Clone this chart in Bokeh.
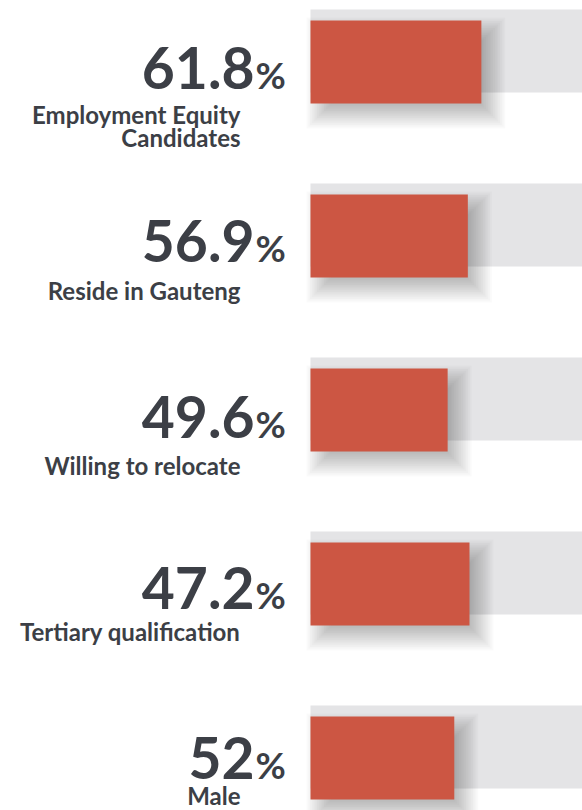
from bokeh.plotting import figure
from bokeh.models import Range1d, ColumnDataSource
from bokeh.core.properties import value
from bokeh.embed import file_html
from bokeh.resources import INLINE

# ---- data ----
labels = ["Employment Equity\nCandidates", "Reside in Gauteng", "Willing to relocate",
          "Tertiary qualification", "Male"]
values = [61.8, 56.9, 49.6, 47.2, 52]
value_text = ["61.8", "56.9", "49.6", "47.2", "52"]
# drawn length of the red bar, as measured in the picture (percent of the grey track)
bar_length = [61.8, 56.9, 49.6, 57.5, 52.0]
track_length = [100, 100, 100, 100, 100]

# ---- layout / style ----
W, H = 582, 810
PX_PER_PCT = 2.765
BAR_X0 = 310           # plot px where 0% sits
ROW = 174              # px between rows
FIRST_CENTER = 50.5    # plot px of first grey track centre
TRACK_H = 83
RED_DY = 11
RED = "#CC5643"
GREY = "#E4E4E6"
TEXT = "#3C3F46"
FONT = "Lato"
NUM_SIZE = 57
PCT_SIZE = 37
LAB_SIZE = 24
BASE_FIX = 0.34        # renderer places alphabetic baseline this many em lower

num_dy = [78, 77, 79, 76, 72]        # baseline of big number below track top (px)
lab_dy = [113, 115, 116, 108, 98]    # baseline of first label line below track top (px)

x_start = -BAR_X0 / PX_PER_PCT
x_end = (W - BAR_X0) / PX_PER_PCT
y_top = -FIRST_CENTER / ROW
y_bot = (H - FIRST_CENTER) / ROW

p = figure(width=W, height=H, output_backend="svg", toolbar_location=None,
           x_range=Range1d(x_start, x_end), y_range=Range1d(y_bot, y_top),
           min_border=0)
p.axis.visible = False
p.grid.visible = False
p.outline_line_color = None
p.background_fill_color = "white"
p.border_fill_color = "white"

n = len(values)
idx = list(range(n))
hu = TRACK_H / 2 / ROW

# grey tracks
p.quad(left=[0] * n, right=track_length, top=[i - hu for i in idx],
       bottom=[i + hu for i in idx], fill_color=GREY, line_color=None)

# soft shadow under red bars
red_top = [i - hu + RED_DY / ROW for i in idx]
red_bot = [t + TRACK_H / ROW for t in red_top]
SH_DX, SH_DY, BLUR, LAYERS = 10, 11, 28, 16
for k in range(LAYERS, 0, -1):
    e = BLUR * k / LAYERS - BLUR / 2
    ex = e / PX_PER_PCT
    ey = e / ROW
    p.quad(left=[SH_DX / PX_PER_PCT - ex] * n,
           right=[b + SH_DX / PX_PER_PCT + ex for b in bar_length],
           top=[t + SH_DY / ROW - ey for t in red_top],
           bottom=[b + SH_DY / ROW + ey for b in red_bot],
           fill_color="black", fill_alpha=0.019, line_color=None)

# red bars
p.quad(left=[0] * n, right=bar_length, top=red_top, bottom=red_bot,
       fill_color=RED, line_color=None)

track_top_off = -TRACK_H / 2

# big numbers
num_src = ColumnDataSource(dict(x=[0] * n, y=idx, t=value_text,
                                yo=[d + track_top_off - BASE_FIX * NUM_SIZE for d in num_dy]))
p.text(x="x", y="y", text="t", source=num_src, x_offset=-56, y_offset="yo",
       text_font=value(FONT), text_font_style="bold", text_font_size=f"{NUM_SIZE}px",
       text_color=TEXT, text_align="right", text_baseline="alphabetic")
pct_src = ColumnDataSource(dict(x=[0] * n, y=idx, t=["%"] * n,
                                yo=[d + track_top_off - BASE_FIX * PCT_SIZE for d in num_dy]))
p.text(x="x", y="y", text="t", source=pct_src, x_offset=-55, y_offset="yo",
       text_font=value(FONT), text_font_style="bold", text_font_size=f"{PCT_SIZE}px",
       text_color=TEXT, text_align="left", text_baseline="alphabetic")

# labels (one entry per line)
lx, ly, lt, lyo = [], [], [], []
for i, lab in enumerate(labels):
    for j, line in enumerate(lab.split("\n")):
        lx.append(0)
        ly.append(i)
        lt.append(line)
        lyo.append(lab_dy[i] + j * 23 + track_top_off - BASE_FIX * LAB_SIZE)
lab_src = ColumnDataSource(dict(x=lx, y=ly, t=lt, yo=lyo))
p.text(x="x", y="y", text="t", source=lab_src, x_offset=-70, y_offset="yo",
       text_font=value(FONT), text_font_style="bold", text_font_size=f"{LAB_SIZE}px",
       text_color=TEXT, text_align="right", text_baseline="alphabetic")

open("out.html", "w").write(file_html(p, INLINE))
